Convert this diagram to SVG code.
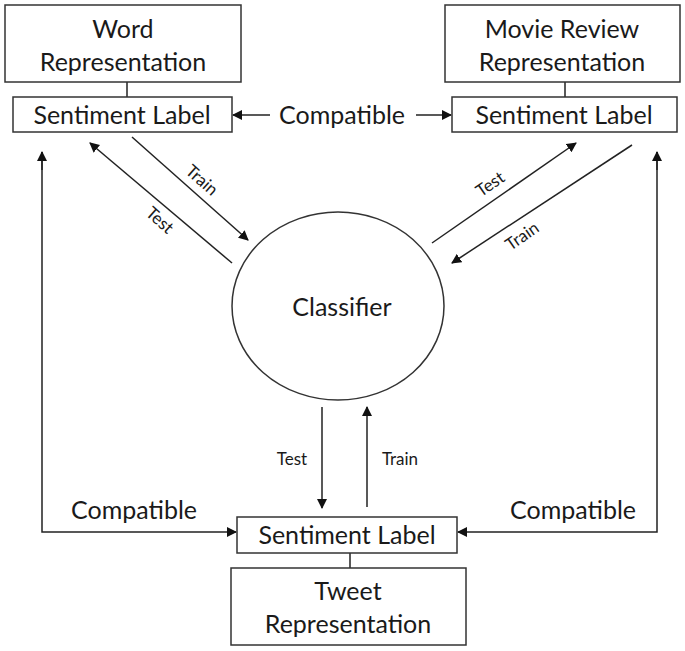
<svg xmlns="http://www.w3.org/2000/svg" width="685" height="651" viewBox="0 0 685 651">
<style>
.box{fill:#fff;stroke:#333;stroke-width:1.5}
.ln{fill:none;stroke:#222;stroke-width:1.5}
.t{font-family:Lato,"Open Sans",sans-serif;fill:#1a1a1a;text-anchor:middle}
.big{font-size:25px}
.sm{font-size:17px}
</style>
<defs>
<marker id="ah" viewBox="0 0 10 10" refX="9" refY="5" markerWidth="10" markerHeight="10" markerUnits="userSpaceOnUse" orient="auto">
<path d="M0,0 L10,5 L0,10 z" fill="#111"/>
</marker>
</defs>
<rect width="685" height="651" fill="#fff"/>
<g id="connectors">
<line class="ln" x1="127" y1="82" x2="127" y2="97"/>
<line class="ln" x1="565" y1="82" x2="565" y2="97"/>
<line class="ln" x1="350" y1="553" x2="350" y2="568"/>
<line class="ln" x1="270" y1="115" x2="233" y2="115" marker-end="url(#ah)"/>
<line class="ln" x1="416" y1="115" x2="451" y2="115" marker-end="url(#ah)"/>
<line class="ln" x1="132" y1="137" x2="248" y2="240" marker-end="url(#ah)"/>
<line class="ln" x1="232" y1="263" x2="90" y2="143" marker-end="url(#ah)"/>
<line class="ln" x1="432" y1="243" x2="576" y2="143" marker-end="url(#ah)"/>
<line class="ln" x1="632" y1="145" x2="452" y2="263" marker-end="url(#ah)"/>
<line class="ln" x1="322" y1="407" x2="322" y2="508" marker-end="url(#ah)"/>
<line class="ln" x1="367" y1="507" x2="367" y2="407" marker-end="url(#ah)"/>
<polyline class="ln" points="42,152 42,532 236,532" marker-end="url(#ah)"/>
<polyline class="ln" points="657,152 657,532 458,532" marker-end="url(#ah)"/>
<line class="ln" x1="42" y1="170" x2="42" y2="152" marker-end="url(#ah)"/>
<line class="ln" x1="657" y1="170" x2="657" y2="152" marker-end="url(#ah)"/>
<text class="t big" x="342" y="124">Compatible</text>
<text class="t big" x="134" y="519">Compatible</text>
<text class="t big" x="573" y="519">Compatible</text>
<text class="t sm" x="292" y="465">Test</text>
<text class="t sm" x="400" y="465">Train</text>
<text class="t sm" transform="translate(202,180) rotate(41.6)" y="6">Train</text>
<text class="t sm" transform="translate(160,220) rotate(41.6)" y="6">Test</text>
<text class="t sm" transform="translate(490,184) rotate(-34.8)" y="6">Test</text>
<text class="t sm" transform="translate(522,236) rotate(-34.8)" y="6">Train</text>
</g>
<g id="word">
<rect class="box" x="5" y="5" width="236" height="77"/>
<text class="t big" x="123" y="38">Word</text>
<text class="t big" x="123" y="71">Representation</text>
</g>
<g id="word-label">
<rect class="box" x="13" y="97" width="219" height="35"/>
<text class="t big" x="122" y="124">Sentiment Label</text>
</g>
<g id="movie">
<rect class="box" x="445" y="5" width="235" height="77"/>
<text class="t big" x="562" y="38">Movie Review</text>
<text class="t big" x="562" y="71">Representation</text>
</g>
<g id="movie-label">
<rect class="box" x="452" y="97" width="225" height="35"/>
<text class="t big" x="564" y="124">Sentiment Label</text>
</g>
<g id="classifier">
<ellipse class="box" cx="338" cy="306" rx="106" ry="94"/>
<text class="t big" x="342" y="316">Classifier</text>
</g>
<g id="tweet-label">
<rect class="box" x="237" y="517" width="220" height="36"/>
<text class="t big" x="347" y="544">Sentiment Label</text>
</g>
<g id="tweet">
<rect class="box" x="231" y="568" width="235" height="77"/>
<text class="t big" x="348" y="600">Tweet</text>
<text class="t big" x="348" y="633">Representation</text>
</g>
</svg>
